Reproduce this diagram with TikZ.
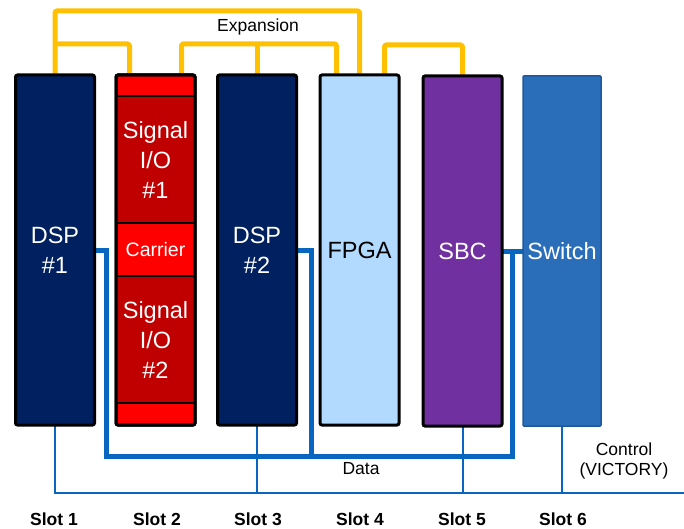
\documentclass[tikz,border=0pt]{standalone}
\usepackage{fontspec}
\setmainfont{Liberation Sans}
\usetikzlibrary{calc}

\definecolor{navy}{RGB}{0,32,96}
\definecolor{brightred}{RGB}{255,0,0}
\definecolor{darkred}{RGB}{192,0,0}
\definecolor{fpgablue}{RGB}{178,218,255}
\definecolor{sbcpurple}{RGB}{112,48,160}
\definecolor{switchblue}{RGB}{42,110,186}
\definecolor{switchedge}{RGB}{32,88,156}
\definecolor{expyellow}{RGB}{255,192,0}
\definecolor{busblue}{RGB}{8,102,192}

\tikzset{
  slotbox/.style={draw=black, line width=3pt, rounded corners=2pt,
    minimum width=79pt, minimum height=350pt, inner sep=0pt, outer sep=0pt,
    align=center, text=white, font=\fontsize{23.5}{30}\selectfont},
  partbox/.style={draw=black, line width=2.5pt, fill=darkred,
    minimum width=79pt, minimum height=127pt, inner sep=0pt, outer sep=0pt,
    align=center, text=white, font=\fontsize{23.5}{30}\selectfont},
  exp/.style={draw=expyellow, line width=5pt, line join=round, rounded corners=1.5pt},
  databus/.style={draw=busblue, line width=5pt, line join=miter},
  ctl/.style={draw=busblue, line width=2pt},
  lbl/.style={font=\fontsize{17.5}{20}\selectfont, inner sep=0pt},
  slotlbl/.style={font=\bfseries\fontsize{17.5}{20}\selectfont, inner sep=0pt}
}

\begin{document}
\begin{tikzpicture}[x=1pt, y=-1pt]
\useasboundingbox (0,0) rectangle (684,529);

% slot positions (boxes drawn later, on top of the wiring)
\path
  (55,250)    node[slotbox, fill=none, draw=none] (s1) {}
  (155.5,250) node[slotbox, fill=none, draw=none] (s2) {}
  (257,250)   node[slotbox, fill=none, draw=none] (s3) {}
  (359.5,250) node[slotbox, fill=none, draw=none] (s4) {}
  (462.5,251) node[slotbox, fill=none, draw=none] (s5) {}
  (562,251)   node[slotbox, fill=none, draw=none, minimum width=78pt] (s6) {};

% expansion links
\draw[exp] (s1.north) -- ++(0,-64) -| (s4.north);
\draw[exp] ([yshift=31pt]s1.north) -| ([xshift=-26pt]s2.north);
\draw[exp] ([xshift=26pt]s2.north) -- ++(0,-31) -| ([xshift=-23pt]s4.north);
\draw[exp] (s3.north) -- ++(0,-31);
\draw[exp] ([xshift=25pt]s4.north) -- ++(0,-30) -| (s5.north);
\node[lbl] (explbl) at (258,27) {Expansion};

% data fabric
\coordinate (dL) at (106,456);
\coordinate (dM) at (311,456);
\coordinate (dR) at (512,456);
\draw[databus] (s1.east) -| (dL) -- (dR) |- (s6.west);
\draw[databus] (s3.east) -| (dM);
\draw[databus] (s5.east) -- (s5.east -| dR);
\node[lbl] (datalbl) at (361,469) {Data};

% control plane
\coordinate (cEnd) at (684,493);
\draw[ctl] (s1.south) |- (cEnd);
\draw[ctl] (s3.south) -- (s3.south |- cEnd);
\draw[ctl] (s5.south) -- (s5.south |- cEnd);
\draw[ctl] (s6.south) -- (s6.south |- cEnd);
\node[lbl] (ctllbl) at (624,449) {Control};
\node[lbl] (viclbl) at (624,471) {(VICTORY)};

% cards
\node[slotbox, fill=navy] at (s1) {DSP\\\#1};
\node[slotbox, fill=brightred] at (s2) {};
\node[partbox] (sig1) at (155.5,159.5) {Signal\\I/O\\\#1};
\node[partbox] (sig2) at (155.5,339.5) {Signal\\I/O\\\#2};
\node[text=white, font=\fontsize{19.5}{22}\selectfont] (carrier) at (155.5,250) {Carrier};
\draw[black, line width=3pt, rounded corners=2pt]
  (s2.north west) rectangle (s2.south east);
\node[slotbox, fill=navy] at (s3) {DSP\\\#2};
\node[slotbox, fill=fpgablue, text=black] at (s4) {FPGA};
\node[slotbox, fill=sbcpurple] at (s5) {SBC};
\node[slotbox, fill=switchblue, draw=switchedge, line width=1.5pt,
      minimum width=78pt, rounded corners=1pt] at (s6) {Switch};

% slot numbering
\foreach \n/\x in {1/54, 2/157, 3/258, 4/360, 5/462, 6/563}
  \node[slotlbl] (slot\n) at (\x,519) {Slot \n};
\end{tikzpicture}
\end{document}
